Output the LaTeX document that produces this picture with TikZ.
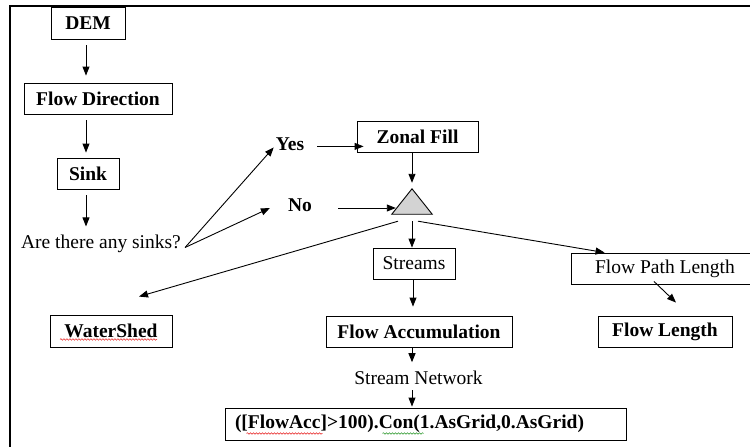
\documentclass[tikz,border=0pt]{standalone}
\usepackage{fontspec}
\setmainfont{Liberation Serif}
\usepackage{xcolor}
\usepackage{tikz}
\usetikzlibrary{arrows.meta,positioning,decorations.pathmorphing}

\newcommand{\chartfont}{\fontsize{19.5}{23}\selectfont}

\begin{document}
\begin{tikzpicture}[x=1pt, y=-1pt,
    stepbox/.style={draw, line width=0.9pt, inner sep=0pt, font=\chartfont\bfseries},
    plainbox/.style={draw, line width=0.9pt, inner sep=0pt, font=\chartfont},
    plaintext/.style={inner sep=1pt, font=\chartfont},
    answer/.style={inner sep=1pt, font=\chartfont\bfseries},
    flow/.style={-{Triangle[length=9pt,width=7pt]}, line width=0.9pt},
    spell/.style={line width=0.5pt, decorate, decoration={snake, amplitude=0.8pt, segment length=3pt}}]
    % Define colors
    \definecolor{decisiongray}{RGB}{211,211,211}
    \definecolor{spellred}{RGB}{230,30,30}
    \definecolor{spellgreen}{RGB}{40,150,40}

    \useasboundingbox (0,0) rectangle (750,447);
    \clip (0,0) rectangle (750,447);

    % Page frame
    \draw[line width=1.5pt] (10,447) -- (10,6) -- (750,6);

    % Left column
    \node[stepbox, minimum width=74pt, minimum height=32pt] (dem) at (88,23) {DEM};
    \node[stepbox, minimum width=148pt, minimum height=31pt] (flowdir) at (98,98.5) {Flow Direction};
    \node[stepbox, minimum width=62pt, minimum height=31pt] (sink) at (88,173.5) {Sink};
    \node[plaintext] (question) at (101,243.5) {Are there any sinks?};
    \coordinate (fork) at ([shift={(3pt,-4pt)}]question.east);

    % Decision
    \node[answer] (yes) at (290,144.4) {Yes};
    \node[answer] (no) at (300,205.5) {No};
    \node[stepbox, minimum width=121pt, minimum height=31pt] (zonal) at (417.5,136.5) {Zonal Fill};
    \node[minimum width=40pt, minimum height=25pt, inner sep=0pt] (tri) at (412,201.5) {};
    \filldraw[fill=decisiongray, line width=0.9pt] (tri.south west) -- (tri.north) -- (tri.south east) -- cycle;

    % Outputs
    \node[plainbox, minimum width=82pt, minimum height=31pt] (streams) at (414,263.5) {Streams};
    \node[plainbox, minimum width=188pt, minimum height=31pt] (pathlen) at (665,268.5) {Flow Path Length};
    \node[stepbox, minimum width=122pt, minimum height=32pt] (shed) at (111,331) {WaterShed};
    \node[stepbox, minimum width=186pt, minimum height=31pt] (flowacc) at (419,331.5) {Flow Accumulation};
    \node[stepbox, minimum width=134pt, minimum height=31pt] (flowlen) at (665,331.5) {Flow Length};
    \node[plaintext] (network) at (418.5,378.3) {Stream Network};
    \node[stepbox, text width=381pt, align=left, inner xsep=10pt, minimum height=32pt] (grid) at (425.5,424)
        {([FlowAcc]>100).Con(1.AsGrid,0.AsGrid)};

    % Spell check marks
    \draw[spell, spellred] ([shift={(-51pt,8pt)}]shed.south) -- ([shift={(46pt,8pt)}]shed.south);
    \draw[spell, spellred] ([shift={(22pt,7pt)}]grid.south west) -- ([shift={(98pt,7pt)}]grid.south west);
    \draw[spell, spellgreen] ([shift={(158pt,7pt)}]grid.south west) -- ([shift={(199pt,7pt)}]grid.south west);

    % Connectors
    \draw[flow, shorten <=6pt, shorten >=7pt] ([xshift=-2pt]dem.south) -- ([xshift=-2pt]dem.south |- flowdir.north);
    \draw[flow, shorten <=6pt, shorten >=5pt] ([xshift=-12pt]flowdir.south) -- ([xshift=-12pt]flowdir.south |- sink.north);
    \draw[flow, shorten <=6pt, shorten >=7pt] ([xshift=-2pt]sink.south) -- ([xshift=-2pt]sink.south |- question.north);
    \draw[flow] (fork) -- ([xshift=-1pt,yshift=-3pt]yes.west);
    \draw[flow] (fork) -- ([xshift=-17pt,yshift=-2.5pt]no.west);
    \draw[flow, shorten >=5pt] ([xshift=12pt,yshift=-2pt]yes.east) -- ([xshift=12pt,yshift=-2pt]yes.east -| zonal.west);
    \draw[flow, shorten >=21pt] ([xshift=25pt,yshift=-2.5pt]no.east) -- ([xshift=25pt,yshift=-2.5pt]no.east -| tri.west);
    \draw[flow, shorten >=6pt] ([xshift=-5.5pt]zonal.south) -- (tri.north);
    \draw[flow, shorten <=7pt] (tri.south) -- (tri.south |- streams.north);
    \draw[flow] ([shift={(-14pt,-7pt)}]tri.south) -- ([shift={(28pt,18pt)}]shed.north);
    \draw[flow] ([shift={(6pt,-7pt)}]tri.south) -- ([xshift=34pt]pathlen.north west);
    \draw[flow, shorten >=9pt] ([xshift=-1pt]streams.south) -- ([xshift=-1pt]streams.south |- flowacc.north);
    \draw[flow] ([shift={(-11pt,3pt)}]pathlen.south) -- ([shift={(11pt,13pt)}]flowlen.north);
    \draw[flow, shorten >=8pt] ([xshift=-7pt]flowacc.south) -- ([xshift=-7pt]flowacc.south |- network.north);
    \draw[flow, shorten <=4pt, shorten >=1pt] ([xshift=-6.5pt]network.south) -- ([xshift=-6.5pt]network.south |- grid.north);
\end{tikzpicture}
\end{document}
